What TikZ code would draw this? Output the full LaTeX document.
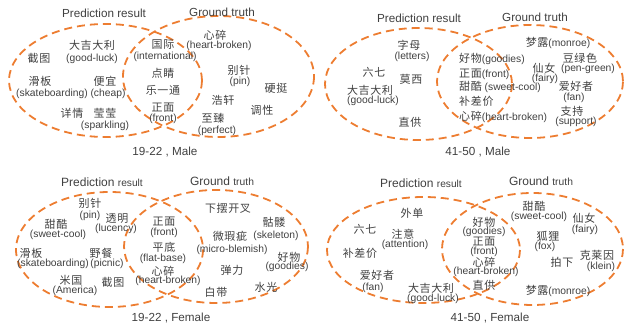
\documentclass[tikz,border=0pt]{standalone}
\usepackage{fontspec}
\setmainfont{Liberation Sans}
\newfontfamily\cjk[LetterSpace=6]{Noto Sans CJK SC}
\definecolor{vorange}{HTML}{ED7D31}
\definecolor{txt}{HTML}{404040}
\begin{document}
\begin{tikzpicture}[x=1pt,y=-1pt,
  vset/.style={draw=vorange, line width=1.8pt, dash pattern=on 8pt off 5pt},
  zh/.style={font=\cjk\fontsize{11}{13}\selectfont, text=txt, inner sep=0pt},
  en/.style={font=\fontsize{10.3}{12}\selectfont, text=txt, inner sep=0pt},
  mix/.style={font=\fontsize{10.3}{12}\selectfont, text=txt, inner sep=0pt, anchor=west},
  ttl/.style={font=\fontsize{11.7}{14}\selectfont, text=txt, inner sep=0pt},
  ttlb/.style={font=\fontsize{12}{14}\selectfont, text=txt, inner sep=0pt}]
\useasboundingbox (0,0) rectangle (625,328);
\newcommand{\zc}[1]{{\cjk\fontsize{11}{13}\selectfont #1}}
% ---------- Panel 1 ----------
\draw[vset] (105.5,80.5) ellipse [x radius=96.5, y radius=56.5];
\draw[vset] (218.5,76.5) ellipse [x radius=95.5, y radius=60.5];
\node[ttl] (t1) at (104,13) {Prediction result};
\node[ttl] (t2) at (222,12) {Ground truth};
\node[ttl] (t3) at (165,152) {19-22 , Male};
\node[zh] (a1) at (39,58) {截图};
\node[zh] (a2) at (92,45) {大吉大利};
\node[en] (a3) at (92,59) {(good-luck)};
\node[zh] (a4) at (40,81) {滑板};
\node[en] (a5) at (52,94) {(skateboarding)};
\node[zh] (a6) at (105,81) {便宜};
\node[en] (a7) at (108,94) {(cheap)};
\node[zh] (a8) at (72,113) {详情};
\node[zh] (a9) at (105,113) {莹莹};
\node[en] (a10) at (105,126) {(sparkling)};
\node[zh] (a11) at (163,45) {国际};
\node[en] (a12) at (165,57) {(international)};
\node[zh] (a13) at (163,73) {点睛};
\node[zh] (a14) at (163,90) {乐一通};
\node[zh] (a15) at (163,108) {正面};
\node[en] (a16) at (163,119) {(front)};
\node[zh] (a17) at (215,35) {心碎};
\node[en] (a18) at (219,46) {(heart-broken)};
\node[zh] (a19) at (239,70) {别针};
\node[en] (a20) at (240,82) {(pin)};
\node[zh] (a21) at (276,88) {硬挺};
\node[zh] (a22) at (223,100) {浩轩};
\node[zh] (a23) at (262,110) {调性};
\node[zh] (a24) at (213,118) {至臻};
\node[en] (a25) at (217,131) {(perfect)};
% ---------- Panel 2 ----------
\draw[vset] (418.5,84) ellipse [x radius=93.5, y radius=56];
\draw[vset] (530,81.5) ellipse [x radius=93, y radius=56.5];
\node[ttl] (t4) at (419,18) {Prediction result};
\node[ttl] (t5) at (535,17) {Ground truth};
\node[ttl] (t6) at (478,152) {41-50 , Male};
\node[zh] (b1) at (409,45) {字母};
\node[en] (b2) at (412,57) {(letters)};
\node[zh] (b3) at (374,72) {六七};
\node[zh] (b4) at (411,79) {莫西};
\node[zh] (b5) at (370,90) {大吉大利};
\node[en] (b6) at (373,101) {(good-luck)};
\node[zh] (b7) at (410,122) {直供};
\node[mix] (b8) at (459,59) {\zc{好物}(goodies)};
\node[mix] (b9) at (459,74) {\zc{正面}(front)};
\node[mix] (b10) at (459,87) {\zc{甜酷} (sweet-cool)};
\node[mix] (b11) at (459,101) {\zc{补差价}};
\node[mix] (b12) at (459,117) {\zc{心碎}(heart-broken)};
\node[en] (b13) at (558,43) {\zc{梦露}(monroe)};
\node[zh] (b14) at (580,58) {豆绿色};
\node[en] (b15) at (588,69) {(pen-green)};
\node[zh] (b16) at (544,68) {仙女};
\node[en] (b17) at (545,79) {(fairy)};
\node[zh] (b18) at (576,86) {爱好者};
\node[en] (b19) at (574,98) {(fan)};
\node[zh] (b20) at (572,111) {支持};
\node[en] (b21) at (576,122) {(support)};
% ---------- Panel 3 ----------
\draw[vset] (109.5,249.5) ellipse [x radius=93.5, y radius=57.5];
\draw[vset] (216,246.5) ellipse [x radius=92, y radius=56.5];
\node[ttlb] (t7) at (102,182) {Prediction {\fontsize{10.2}{12}\selectfont result}};
\node[ttlb] (t8) at (222,181) {Ground {\fontsize{10.3}{12}\selectfont truth}};
\node[ttl] (t9) at (171,318) {19-22 , Female};
\node[zh] (c1) at (90,203) {别针};
\node[en] (c2) at (90,216) {(pin)};
\node[zh] (c3) at (56,224) {甜酷};
\node[en] (c4) at (58,235) {(sweet-cool)};
\node[zh] (c5) at (117,218) {透明};
\node[en] (c6) at (116,229) {(lucency)};
\node[zh] (c7) at (31,253) {滑板};
\node[en] (c8) at (53,264) {(skateboarding)};
\node[zh] (c9) at (101,253) {野餐};
\node[en] (c10) at (107,264) {(picnic)};
\node[zh] (c11) at (71,280) {米国};
\node[en] (c12) at (75,291) {(America)};
\node[zh] (c13) at (113,282) {截图};
\node[zh] (c14) at (164,222) {正面};
\node[en] (c15) at (164,233) {(front)};
\node[zh] (c16) at (164,247) {平底};
\node[en] (c17) at (163,259) {(flat-base)};
\node[zh] (c18) at (163,271) {心碎};
\node[en] (c19) at (168,281) {(heart-broken)};
\node[zh] (c20) at (228,208) {下摆开叉};
\node[zh] (c21) at (274,222) {骷髅};
\node[en] (c22) at (276,236) {(skeleton)};
\node[zh] (c23) at (230,236) {微瑕疵};
\node[en] (c24) at (232,250) {(micro-blemish)};
\node[zh] (c25) at (289,257) {好物};
\node[en] (c26) at (287,267) {(goodies)};
\node[zh] (c27) at (232,270) {弹力};
\node[zh] (c28) at (266,287) {水光};
\node[zh] (c29) at (216,292) {白带};
% ---------- Panel 4 ----------
\draw[vset] (423.5,250) ellipse [x radius=96.5, y radius=53];
\draw[vset] (532.5,249) ellipse [x radius=90.5, y radius=56];
\node[ttlb] (t10) at (421,183) {Prediction {\fontsize{10.2}{12}\selectfont result}};
\node[ttlb] (t11) at (541,181) {Ground {\fontsize{10.3}{12}\selectfont truth}};
\node[ttl] (t12) at (490,318) {41-50 , Female};
\node[zh] (d1) at (412,213) {外单};
\node[zh] (d2) at (365,229) {六七};
\node[zh] (d3) at (403,234) {注意};
\node[en] (d4) at (405,245) {(attention)};
\node[zh] (d5) at (360,253) {补差价};
\node[zh] (d6) at (377,275) {爱好者};
\node[en] (d7) at (373,288) {(fan)};
\node[zh] (d8) at (431,288) {大吉大利};
\node[en] (d9) at (433,299) {(good-luck)};
\node[zh] (d10) at (484,222) {好物};
\node[en] (d11) at (484,232) {(goodies)};
\node[zh] (d12) at (484,242) {正面};
\node[en] (d13) at (484,252) {(front)};
\node[zh] (d14) at (484,262) {心碎};
\node[en] (d15) at (486,272) {(heart-broken)};
\node[zh] (d16) at (484,285) {直供};
\node[zh] (d17) at (534,206) {甜酷};
\node[en] (d18) at (539,217) {(sweet-cool)};
\node[zh] (d19) at (584,218) {仙女};
\node[en] (d20) at (585,230) {(fairy)};
\node[zh] (d21) at (548,236) {狐狸};
\node[en] (d22) at (545,247) {(fox)};
\node[zh] (d23) at (562,262) {拍下};
\node[zh] (d24) at (597,255) {克莱因};
\node[en] (d25) at (601,267) {(klein)};
\node[en] (d26) at (558,291) {\zc{梦露}(monroe)};
\end{tikzpicture}
\end{document}
